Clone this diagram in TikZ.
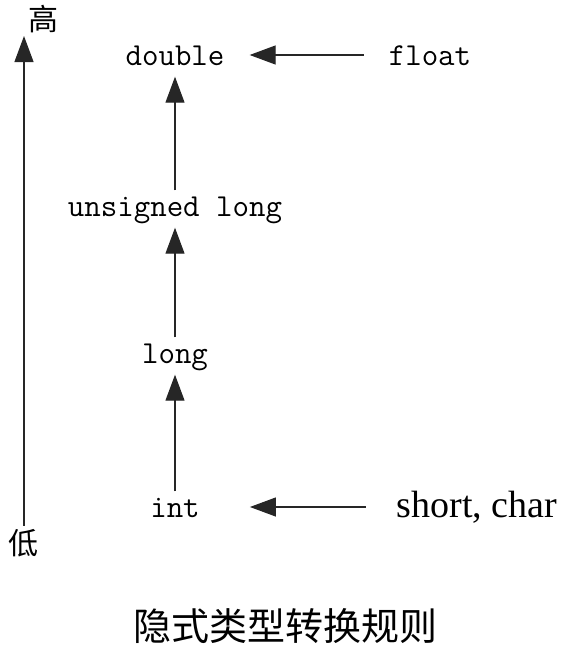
\documentclass[tikz,border=0pt]{standalone}
\usepackage{fontspec}
\newfontfamily\cjk{Noto Sans CJK SC}
\newfontfamily\timesfont{Liberation Serif}
\usetikzlibrary{arrows.meta}
\begin{document}
\begin{tikzpicture}[x=1pt,y=-1pt]
  \tikzstyle{every node}=[inner sep=0pt]
  \tikzstyle{ctype}=[font=\fontsize{32}{32}\selectfont\ttfamily,text height=23pt,text depth=2pt,inner xsep=25pt,inner ysep=3pt]
  \tikzstyle{level}=[font=\fontsize{30}{30}\selectfont\cjk,inner sep=3pt]
  \tikzstyle{conv}=[-{Triangle[width=19pt,length=26pt]},line width=1.2pt,black!85]
  \tikzstyle{up}=[conv,shorten >=6pt]
  \useasboundingbox (0,0) rectangle (571,650);
  \node [level] (high) at (43,19) {高};
  \node [level] (low) at (24,543) {低};
  \node [ctype] (double) at (175,55) {double};
  \node [ctype] (float) at (430,55) {float};
  \node [ctype] (ulong) at (175,206) {unsigned long};
  \node [ctype] (long) at (175,353) {long};
  \node [ctype] (int) at (175,507) {int};
  \node [ctype,inner xsep=31pt,font=\fontsize{38}{38}\selectfont\timesfont] (shortchar) at (477,507) {short, char};
  \node [font=\fontsize{38}{38}\selectfont\cjk] (caption) at (285,626) {隐式类型转换规则};
  \draw [conv] (low.north) -- (low.north |- high.south);
  \draw [conv] (float) -- (double);
  \draw [up] (ulong) -- (double);
  \draw [up] (long) -- (ulong);
  \draw [up] (int) -- (long);
  \draw [conv,shorten >=25pt] (shortchar) -- (int);
\end{tikzpicture}
\end{document}
